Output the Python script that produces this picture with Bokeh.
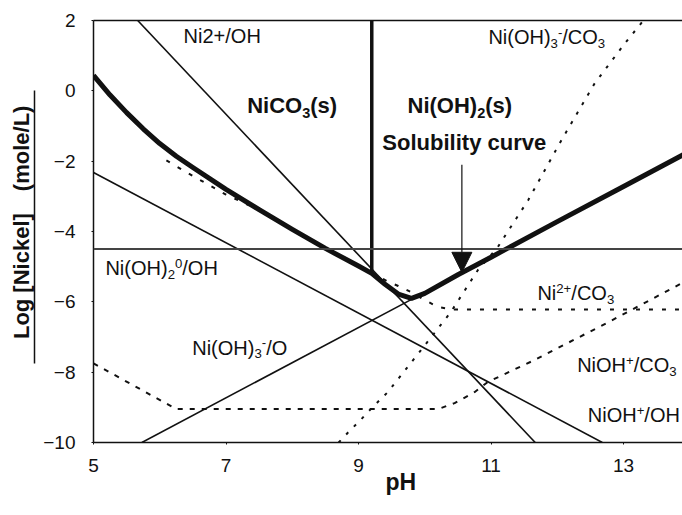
from bokeh.plotting import figure
from bokeh.models import (Label, Arrow, NormalHead, LinearAxis, FixedTicker,
                          Span, Range1d)
from bokeh.embed import file_html
from bokeh.resources import INLINE

# ---- data -------------------------------------------------------------
# total nickel solubility (NiCO3(s) below pH 9.2, Ni(OH)2(s) above)
sol_ph = [5.0, 5.25, 5.5, 5.75, 6.0, 6.25, 6.5, 7.0, 7.5, 8.0, 8.5, 9.0,
          9.2, 9.4, 9.6, 9.8, 10.0, 10.5, 11.0, 12.0, 13.0, 14.0]
sol_log = [0.44, -0.12, -0.62, -1.08, -1.5, -1.86, -2.18, -2.8, -3.38, -3.94,
           -4.48, -4.98, -5.19, -5.5, -5.78, -5.9, -5.76, -5.23, -4.73,
           -3.72, -2.72, -1.72]

# species lines, hydroxide system
ni2_oh_ph = [5.667, 11.667]
ni2_oh_log = [2.0, -10.0]
nioh_oh_ph = [5.0, 12.68]
nioh_oh_log = [-2.32, -10.0]
nioh3_o_ph = [5.73, 10.0]
nioh3_o_log = [-10.0, -5.73]

# species lines, carbonate system
ni2_co3_ph = [6.1, 6.5, 7.0, 7.4, 8.0, 8.5, 9.0, 9.44, 9.6, 9.8, 10.0, 10.2,
              10.45, 14.0]
ni2_co3_log = [-1.98, -2.42, -2.95, -3.3, -3.94, -4.48, -4.98, -5.42, -5.55,
               -5.73, -5.95, -6.15, -6.22, -6.22]
nioh_co3_ph = [5.0, 6.25, 10.2, 10.45, 10.75, 10.95, 11.65, 12.77, 14.0]
nioh_co3_log = [-7.75, -9.05, -9.05, -8.88, -8.57, -8.28, -7.66, -6.58, -5.35]
nioh3_co3_ph = [8.7, 8.85, 9.03, 9.21, 9.44, 9.94, 10.39, 10.8, 11.1, 11.56,
                12.06, 12.56, 13.02, 13.3]
nioh3_co3_log = [-10.0, -9.7, -9.36, -9.0, -8.57, -7.38, -6.3, -5.1, -4.45,
                 -3.11, -1.41, 0.2, 1.35, 2.0]

# solid-phase boundary and Ni(OH)2 level
boundary_ph = [9.2, 9.2]
boundary_log = [2.0, -5.19]
nioh2_level = -4.5

x_ticks = [5, 7, 9, 11, 13]
y_ticks = [2, 0, -2, -4, -6, -8, -10]

FONT = "Liberation Sans"
INK = "#111111"

# Arial / Liberation Sans advance widths (1/1000 em) for the label glyphs
W_REG = {"N": 722, "i": 222, "C": 722, "O": 778, "H": 722, "(": 333,
         ")": 333, "/": 278, "s": 500, "+": 584, "-": 333, "0": 556,
         "2": 556, "3": 556}
W_BOLD = {"N": 722, "i": 278, "C": 722, "O": 778, "H": 722, "(": 333,
          ")": 333, "s": 556, "2": 556, "3": 556}

p = figure(frame_width=589, frame_height=422,
           min_border_left=93, min_border_right=0,
           min_border_top=20, min_border_bottom=73,
           x_range=Range1d(5, 13.89), y_range=Range1d(-10, 2),
           output_backend="svg", toolbar_location=None)
p.grid.visible = False
p.outline_line_color = None
p.background_fill_color = "white"
p.border_fill_color = "white"

for ax in (p.xaxis[0], p.yaxis[0]):
    ax.axis_line_color = INK
    ax.axis_line_width = 1.5
    ax.major_tick_line_color = INK
    ax.major_tick_out = 2
    ax.major_tick_in = 0
    ax.minor_tick_line_color = None
    ax.major_label_text_font = FONT
    ax.major_label_text_font_size = "19px"
    ax.major_label_text_color = INK

p.xaxis.ticker = FixedTicker(ticks=x_ticks)
p.yaxis.ticker = FixedTicker(ticks=y_ticks)
p.xaxis.major_label_standoff = 14
p.yaxis.major_label_standoff = 16

p.xaxis.axis_label = "\u00a0" * 4 + "pH"
p.xaxis.axis_label_text_font = FONT
p.xaxis.axis_label_text_font_size = "23px"
p.xaxis.axis_label_text_font_style = "bold"
p.xaxis.axis_label_text_color = INK
p.xaxis.axis_label_standoff = -6


def bare_axis(**kw):
    return LinearAxis(ticker=FixedTicker(ticks=[]),
                      major_label_text_font_size="0px",
                      major_label_standoff=0,
                      major_tick_out=0, major_tick_in=0,
                      major_tick_line_color=None,
                      minor_tick_line_color=None, **kw)


# top frame edge
p.add_layout(bare_axis(axis_line_color=INK, axis_line_width=1.5), "above")

# gap between the tick labels and the y title
p.add_layout(bare_axis(axis_line_color=None, axis_label="\u00a0",
                       axis_label_text_font_size="3px",
                       axis_label_standoff=0), "left")

# y title; the bounded axis line beside it acts as its underline
p.add_layout(bare_axis(axis_line_color=INK, axis_line_width=1.5,
                       bounds=(-7.75, 0.0),
                       axis_label="\u00a0" * 3 + "Log [Nickel]\u2003(mole/L)",
                       axis_label_text_font=FONT,
                       axis_label_text_font_size="22px",
                       axis_label_text_font_style="bold",
                       axis_label_text_color=INK,
                       axis_label_standoff=1), "left")

# ---- lines ------------------------------------------------------------
p.add_layout(Span(location=nioh2_level, dimension="width",
                  line_color="#444444", line_width=2))

p.line(ni2_oh_ph, ni2_oh_log, line_color=INK, line_width=1.6)
p.line(nioh_oh_ph, nioh_oh_log, line_color=INK, line_width=1.6)
p.line(nioh3_o_ph, nioh3_o_log, line_color=INK, line_width=1.6)

p.line(ni2_co3_ph, ni2_co3_log, line_color=INK, line_width=2,
       line_dash="4 9")
p.line(nioh_co3_ph, nioh_co3_log, line_color=INK, line_width=2,
       line_dash="5 7")
p.line(nioh3_co3_ph, nioh3_co3_log, line_color=INK, line_width=2,
       line_dash="3 8")

p.line(boundary_ph, boundary_log, line_color=INK, line_width=3.5)
p.line(sol_ph, sol_log, line_color=INK, line_width=5, line_join="round")

p.add_layout(Arrow(x_start=10.56, y_start=-2.1, x_end=10.56, y_end=-5.16,
                   line_color=INK, line_width=1.2,
                   end=NormalHead(size=20, fill_color=INK, line_color=INK)))


# ---- labels -----------------------------------------------------------
def note(x, y, parts, size=20, bold=False):
    """Place a label made of normal ('n'), subscript ('b') and
    superscript ('p') runs; y is the vertical centre of the capitals."""
    widths = W_BOLD if bold else W_REG
    dx = 0.0
    for text, kind in parts:
        fs = size if kind == "n" else 0.66 * size
        dy = 0.0
        if kind == "b":
            dy = -0.32 * size
        elif kind == "p":
            dy = 0.26 * size
        p.add_layout(Label(x=x, y=y, x_offset=dx, y_offset=dy, text=text,
                           text_font=FONT, text_font_size=f"{fs:.1f}px",
                           text_color=INK,
                           text_font_style="bold" if bold else "normal",
                           text_align="left", text_baseline="middle"))
        dx += sum(widths.get(c, 556) for c in text) * fs / 1000.0


note(6.36, 1.57, [("Ni2+/OH", "n")])
note(7.32, -0.42, [("NiCO", "n"), ("3", "b"), ("(s)", "n")], 22, True)
note(9.74, -0.42, [("Ni(OH)", "n"), ("2", "b"), ("(s)", "n")], 22, True)
note(9.36, -1.47, [("Solubility curve", "n")], 22, True)
note(10.96, 1.52, [("Ni(OH)", "n"), ("3", "b"), ("-", "p"), ("/CO", "n"),
                   ("3", "b")])
note(5.18, -5.05, [("Ni(OH)", "n"), ("2", "b"), ("0", "p"), ("/OH", "n")])
note(6.49, -7.3, [("Ni(OH)", "n"), ("3", "b"), ("-", "p"), ("/O", "n")])
note(11.7, -5.76, [("Ni", "n"), ("2+", "p"), ("/CO", "n"), ("3", "b")])
note(12.3, -7.81, [("NiOH", "n"), ("+", "p"), ("/CO", "n"), ("3", "b")])
note(12.46, -9.23, [("NiOH", "n"), ("+", "p"), ("/OH", "n")])

open("out.html", "w").write(file_html(p, INLINE))
